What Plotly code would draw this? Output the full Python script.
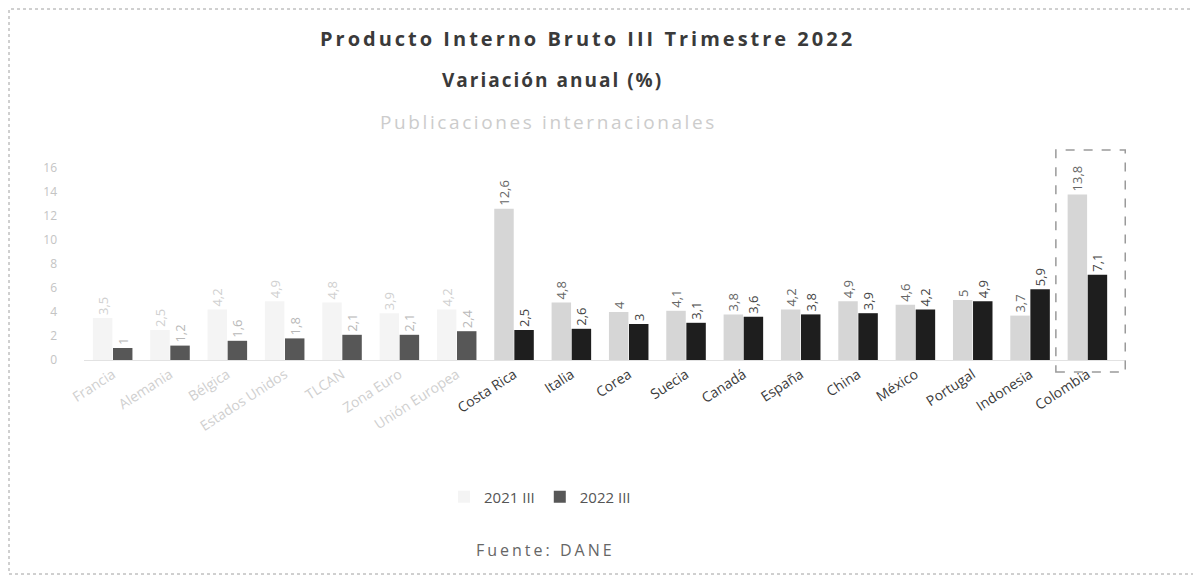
import plotly.graph_objects as go

# Data
paises = ['Francia', 'Alemania', 'Bélgica', 'Estados Unidos', 'TLCAN', 'Zona Euro',
          'Unión Europea', 'Costa Rica', 'Italia', 'Corea', 'Suecia', 'Canadá',
          'España', 'China', 'México', 'Portugal', 'Indonesia', 'Colombia']
pib_2021 = [3.5, 2.5, 4.2, 4.9, 4.8, 3.9, 4.2, 12.6, 4.8, 4, 4.1, 3.8, 4.2, 4.9, 4.6, 5, 3.7, 13.8]
pib_2022 = [1.0, 1.2, 1.6, 1.8, 2.1, 2.1, 2.4, 2.5, 2.6, 3, 3.1, 3.6, 3.8, 3.9, 4.2, 4.9, 5.9, 7.1]
y_ticks = [0, 2, 4, 6, 8, 10, 12, 14, 16]

W, H = 1201, 575
FONT = 'Open Sans'
OFF = 8  # the page body adds an 8px margin


def px(x):
    return (x - OFF) / W


def py(y):
    return 1 - (y - OFF) / H


# the scan is washed out on the left side
n_faded = 7


def fmt(v):
    return f'{v:g}'.replace('.', ',')


def fade(i, dark, light):
    return light if i < n_faded else dark


def spaced(text, ls):
    return f"<span style='letter-spacing:{ls}px'>{text}</span>"


col_21 = [fade(i, '#d6d6d6', '#f4f4f4') for i in range(len(paises))]
col_22 = [fade(i, '#1e1e1e', '#575757') for i in range(len(paises))]
txt_21 = [fade(i, '#666666', '#d0d0d0') for i in range(len(paises))]
txt_22 = [fade(i, '#444444', '#b8b8b8') for i in range(len(paises))]
tick_text = [
    f"<span style='color:{fade(i, '#3a3a3a', '#cfcfcf')}'>{p}</span>"
    for i, p in enumerate(paises)
]

fig = go.Figure()

fig.add_trace(go.Bar(
    name='2021 III',
    x=paises,
    y=pib_2021,
    marker=dict(color=col_21, line=dict(width=0)),
    text=[fmt(v) for v in pib_2021],
    textposition='outside',
    textangle=-90,
    textfont=dict(size=13, color=txt_21, family=FONT),
    constraintext='none',
    cliponaxis=False,
))
fig.add_trace(go.Bar(
    name='2022 III',
    x=paises,
    y=pib_2022,
    marker=dict(color=col_22, line=dict(width=0)),
    text=[fmt(v) for v in pib_2022],
    textposition='outside',
    textangle=-90,
    textfont=dict(size=13, color=txt_22, family=FONT),
    constraintext='none',
    cliponaxis=False,
))

# dashed frame round Colombia
fig.add_shape(type='rect', xref='x', yref='paper',
              x0=16.45, x1=17.66, y0=py(372), y1=py(150),
              line=dict(color='#9a9a9a', width=1.5, dash='dash'))

# dashed frame round the whole picture
fig.add_shape(type='rect', xref='paper', yref='paper',
              x0=1 / W, x1=px(1199), y0=py(574), y1=1 - 1 / H,
              line=dict(color='#a0a0a0', width=1, dash='dot'))

titles = [
    (spaced('<b>Producto Interno Bruto III Trimestre 2022</b>', 3), 587, 38, 20, '#3a3a3a'),
    (spaced('<b>Variación anual (%)</b>', 2), 552, 80, 19, '#3a3a3a'),
    (spaced('Publicaciones internacionales', 2.6), 548, 122, 19, '#cccccc'),
    (spaced('Fuente: DANE', 3), 545, 550, 16, '#666666'),
]
for text, x, y, size, color in titles:
    fig.add_annotation(text=text, xref='paper', yref='paper',
                       x=px(x), y=py(y), xanchor='center', yanchor='middle',
                       showarrow=False, font=dict(size=size, color=color, family=FONT))

fig.update_layout(
    width=W,
    height=H,
    margin=dict(l=0, r=0, t=0, b=0),
    paper_bgcolor='#ffffff',
    plot_bgcolor='#ffffff',
    font=dict(family=FONT, color='#555555'),
    barmode='group',
    bargap=0.3,
    bargroupgap=0.03,
    showlegend=True,
    legend=dict(
        orientation='h',
        x=px(540), y=py(497),
        xanchor='center', yanchor='middle',
        font=dict(size=15, color='#555555', family=FONT),
        itemwidth=30,
    ),
    xaxis=dict(
        domain=[px(84), px(1126)],
        tickmode='array',
        tickvals=paises,
        ticktext=tick_text,
        tickangle=-33,
        tickfont=dict(size=14, family=FONT),
        showgrid=False,
        showline=True,
        linecolor='#e2e2e2',
        linewidth=1,
        ticks='',
        automargin=False,
    ),
    yaxis=dict(
        domain=[py(360), py(168)],
        range=[0, 16],
        tickvals=y_ticks,
        tickfont=dict(size=12, color='#c4c4c4', family=FONT),
        showgrid=False,
        zeroline=False,
        showline=False,
        ticklabelstandoff=26,
        automargin=False,
    ),
)

fig.write_html('out.html')
